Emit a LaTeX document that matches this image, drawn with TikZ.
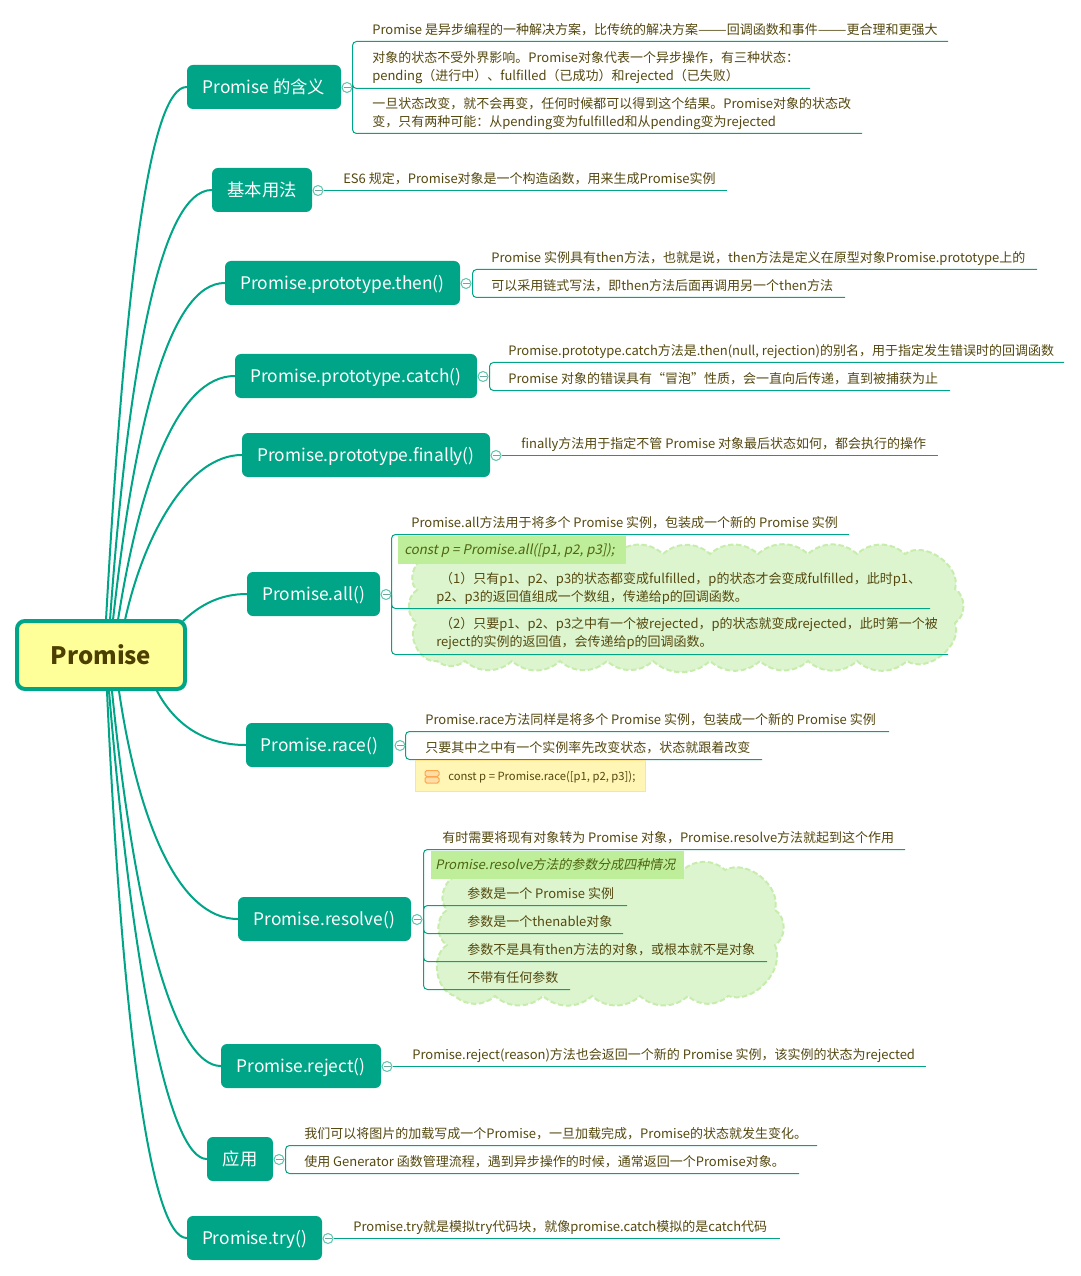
\documentclass[tikz,border=0pt]{standalone}
\usepackage{fontspec}
\setmainfont{Noto Sans CJK SC}
\newfontfamily\slantcjk[FakeSlant=0.2]{Noto Sans CJK SC}
\definecolor{teal1}{HTML}{00A587}
\definecolor{txt}{HTML}{54480F}
\definecolor{rootfill}{HTML}{FFFF99}
\definecolor{rootink}{HTML}{4D3F00}
\definecolor{cloudfill}{HTML}{DDF5CE}
\definecolor{cloudline}{HTML}{C6EDAC}
\definecolor{labelfill}{HTML}{BFEE9B}
\definecolor{labelink}{HTML}{4E6410}
\definecolor{notefill}{HTML}{FFF5B5}
\definecolor{noteline}{HTML}{FFE48C}
\definecolor{knobline}{HTML}{5CC4AE}
\definecolor{knobminus}{HTML}{6FA79B}
\tikzset{
  mainlink/.style={draw=teal1,line width=1.5pt,line cap=round},
  sublink/.style={draw=teal1,line width=0.75pt,rounded corners=3pt},
  branchbox/.style={fill=teal1,rounded corners=4.5pt,text=white,inner sep=0pt,font=\fontsize{13}{16}\selectfont},
  rootbox/.style={draw=teal1,fill=rootfill,line width=3pt,rounded corners=6pt,text=rootink,inner sep=0pt,font=\fontsize{18}{24}\bfseries\selectfont},
  knob/.style={circle,draw=knobline,fill=white,line width=0.75pt,minimum size=7.5pt,inner sep=0pt},
  itemtext/.style={anchor=base west,inner sep=0pt,text=txt,font=\fontsize{9.75}{13.5}\selectfont},
  blocktext/.style={anchor=west,inner sep=0pt,text=txt,align=left,font=\fontsize{9.75}{13.5}\selectfont},
  slanttext/.style={anchor=base west,inner sep=0pt,text=labelink},
  cloudshape/.style={fill=cloudfill,draw=cloudline,line width=1.5pt,dash pattern=on 4pt off 2pt},
}
\newcommand{\branchnode}[5]{\node[branchbox,minimum width={(#3-#2)*0.75pt},minimum height=33pt,text height=12pt,text depth=2pt] (#1) at ({(#2+#3)/2},#4) {#5};}
\newcommand{\knobnode}[3]{\node[knob] (#1) at (#2,#3+0.5) {}; \draw[knobminus,line width=0.6pt] ([xshift=1.5pt]#1.west) -- ([xshift=-1.5pt]#1.east);}
\newcommand{\flatline}[2]{\coordinate (#1end) at (#2,0); \draw[sublink] (#1.east) -- (#1.center -| #1end);}
\newcommand{\arm}[5]{\coordinate (#2a) at (#3+0.5,#4+0.5); \coordinate (#2b) at (#5,#4+0.5); \draw[sublink] (#1.center -| #2a) -- (#2a) -- (#2b);}
\newcommand{\stub}[2]{\coordinate (#1s) at (#2+0.5,0); \draw[sublink] (#1.east) -- (#1.center -| #1s);}
\newcommand{\longdash}{\scalebox{1.32}[1]{——}}
\begin{document}
\begin{tikzpicture}[x=0.75pt,y=-0.75pt]
\useasboundingbox (0,0) rectangle (1080,1276);
\fill[white] (0,0) rectangle (1080,1276);
% clouds
\path[cloudshape] (430,556) foreach \x/\y/\b in {480/554/42,530/554/42,580/554/42,615/554/42,663/554/42,710/554/42,758/554/42,808/554/42,857/554/42,905/554/42,955/589/72,955/623/58,907/661/72,857/661/42,808/661/42,760/661/42,710/661/42,653/661/42,607/661/42,560/661/42,512/661/42,465/661/42,437/661/38,417/623/72,417/590/58,430/556/72} { to[bend left=\b] (\x,\y) };
\path[cloudshape] (460,875) foreach \x/\y/\b in {520/870/42,580/870/42,640/870/42,683/870/42,725/870/42,775/910/66,775/945/58,728/996/66,688/996/42,640/996/42,592/996/42,543/996/42,495/996/42,455/996/42,447/945/66,447/910/58,460/875/66} { to[bend left=\b] (\x,\y) };
% root and branches
\node[rootbox,minimum width=126pt,minimum height=51pt] (root) at (101,655) {Promise};
\branchnode{b1}{187}{341}{87}{Promise 的含义}
\branchnode{b2}{212}{312}{190}{基本用法}
\branchnode{b3}{225}{460}{283}{Promise.prototype.then()}
\branchnode{b4}{235}{477}{376}{Promise.prototype.catch()}
\branchnode{b5}{242}{490}{455}{Promise.prototype.finally()}
\branchnode{b6}{247}{380}{594}{Promise.all()}
\branchnode{b7}{246}{393}{745}{Promise.race()}
\branchnode{b8}{238}{411}{919}{Promise.resolve()}
\branchnode{b9}{221}{381}{1066}{Promise.reject()}
\branchnode{b10}{207}{273}{1159}{应用}
\branchnode{b11}{187}{322}{1238}{Promise.try()}
% main connectors
\foreach \n/\sx/\sy/\ax/\ay/\bx/\t in {
 r1/106/620/125/280/150/b1, r2/110/620/128/370/160/b2, r3/113/620/135/420/170/b3,
 r4/118/620/140/480/178/b4, r5/125/620/145/530/190/b5, r6/183/621/200/605/220/b6,
 r7/157/691/175/725/205/b7, r8/119/691/138/820/178/b8, r9/112/691/135/920/175/b9,
 r10/109/691/133/980/170/b10, r11/107/691/122/1020/150/b11}{
  \coordinate (\n) at (\sx,\sy);
  \coordinate (\n c) at (\bx,0);
  \draw[mainlink] (\n) .. controls (\ax,\ay) and (\n c |- \t.west) .. (\t.west);
}
% knobs
\knobnode{k1}{347}{87}\knobnode{k2}{318}{190}\knobnode{k3}{466}{283}\knobnode{k4}{483}{376}
\knobnode{k5}{496}{455}\knobnode{k6}{386}{594}\knobnode{k7}{400}{745}\knobnode{k8}{417}{919}
\knobnode{k9}{387}{1066}\knobnode{k10}{279}{1159}\knobnode{k11}{328}{1238}
% group 1
\stub{k1}{352}
\arm{k1}{a11}{352}{41}{948}\arm{k1}{a12}{352}{88}{810}\arm{k1}{a13}{352}{133}{862}
\node[itemtext] (t11) at (372,35) {Promise 是异步编程的一种解决方案，比传统的解决方案\longdash 回调函数和事件\longdash 更合理和更强大};
\node[blocktext] (t12) at (372,68) {对象的状态不受外界影响。Promise对象代表一个异步操作，有三种状态：\\pending（进行中）、fulfilled（已成功）和rejected（已失败）};
\node[blocktext] (t13) at (372,114) {一旦状态改变，就不会再变，任何时候都可以得到这个结果。Promise对象的状态改\\变，只有两种可能：从pending变为fulfilled和从pending变为rejected};
% group 2
\flatline{k2}{727}
\node[itemtext] (t21) at (343,184) {ES6 规定，Promise对象是一个构造函数，用来生成Promise实例};
% group 3
\stub{k3}{472}
\arm{k3}{a31}{472}{269}{1037}\arm{k3}{a32}{472}{297}{845}
\node[itemtext] (t31) at (491,263) {Promise 实例具有then方法，也就是说，then方法是定义在原型对象Promise.prototype上的};
\node[itemtext] (t32) at (491,291) {可以采用链式写法，即then方法后面再调用另一个then方法};
% group 4
\stub{k4}{489}
\arm{k4}{a41}{489}{362}{1064}\arm{k4}{a42}{489}{390}{950}
\node[itemtext] (t41) at (508,355) {Promise.prototype.catch方法是.then(null, rejection)的别名，用于指定发生错误时的回调函数};
\node[itemtext] (t42) at (508,383) {Promise 对象的错误具有“冒泡”性质，会一直向后传递，直到被捕获为止};
% group 5
\flatline{k5}{938}
\node[itemtext] (t51) at (521,448) {finally方法用于指定不管 Promise 对象最后状态如何，都会执行的操作};
% group 6
\stub{k6}{391}
\arm{k6}{a61}{391}{534}{849}\arm{k6}{a62}{391}{608}{930}\arm{k6}{a63}{391}{654}{948}
\node[itemtext] (t61) at (411,527) {Promise.all方法用于将多个 Promise 实例，包装成一个新的 Promise 实例};
\fill[labelfill] (398,536) rectangle (626,564);
\node[slanttext,font=\fontsize{10}{13.5}\slantcjk] (t62) at (404,554) {const p = Promise.all([p1, p2, p3]);};
\node[blocktext] (t63) at (436,588) {\hspace{0.3em}（1）只有p1、p2、p3的状态都变成fulfilled，p的状态才会变成fulfilled，此时p1、\\p2、p3的返回值组成一个数组，传递给p的回调函数。};
\node[blocktext] (t64) at (436,634) {\hspace{0.3em}（2）只要p1、p2、p3之中有一个被rejected，p的状态就变成rejected，此时第一个被\\reject的实例的返回值，会传递给p的回调函数。};
% group 7
\stub{k7}{405}
\arm{k7}{a71}{405}{731}{889}\arm{k7}{a72}{405}{759}{762}
\node[itemtext] (t71) at (425,724) {Promise.race方法同样是将多个 Promise 实例，包装成一个新的 Promise 实例};
\node[itemtext] (t72) at (425,752) {只要其中之中有一个实例率先改变状态，状态就跟着改变};
\filldraw[fill=notefill,draw=noteline,line width=0.75pt] (415.5,760.5) rectangle (645.5,791.5);
\filldraw[fill=notefill!60!orange!60,draw=orange!70,line width=0.75pt,rounded corners=1.2pt] (425,770.5) rectangle (439,776.5);
\filldraw[fill=notefill!60!orange!60,draw=orange!70,line width=0.75pt,rounded corners=1.2pt] (425,777) rectangle (439,783);
\node[itemtext,font=\fontsize{8.45}{10}\selectfont] (t73) at (448,780) {const p = Promise.race([p1, p2, p3]);};
% group 8
\stub{k8}{423}
\arm{k8}{a81}{423}{849}{905}\arm{k8}{a82}{423}{905}{627}\arm{k8}{a83}{423}{933}{623}\arm{k8}{a84}{423}{961}{767}\arm{k8}{a85}{423}{989}{570}
\node[itemtext] (t81) at (442,842) {有时需要将现有对象转为 Promise 对象，Promise.resolve方法就起到这个作用};
\fill[labelfill] (431,851) rectangle (684,879);
\node[slanttext,font=\fontsize{9.75}{13.5}\slantcjk] (t82) at (435,869) {Promise.resolve方法的参数分成四种情况};
\node[itemtext] (t83) at (467,898) {参数是一个 Promise 实例};
\node[itemtext] (t84) at (467,926) {参数是一个thenable对象};
\node[itemtext] (t85) at (467,954) {参数不是具有then方法的对象，或根本就不是对象};
\node[itemtext] (t86) at (467,982) {不带有任何参数};
% group 9
\flatline{k9}{926}
\node[itemtext] (t91) at (412,1059) {Promise.reject(reason)方法也会返回一个新的 Promise 实例，该实例的状态为rejected};
% group 10
\stub{k10}{285}
\arm{k10}{a101}{285}{1145}{817}\arm{k10}{a102}{285}{1173}{799}
\node[itemtext] (t101) at (304,1138) {我们可以将图片的加载写成一个Promise，一旦加载完成，Promise的状态就发生变化。};
\node[itemtext] (t102) at (304,1166) {使用 Generator 函数管理流程，遇到异步操作的时候，通常返回一个Promise对象。};
% group 11
\flatline{k11}{780}
\node[itemtext] (t111) at (353,1231) {Promise.try就是模拟try代码块，就像promise.catch模拟的是catch代码};
\end{tikzpicture}
\end{document}
